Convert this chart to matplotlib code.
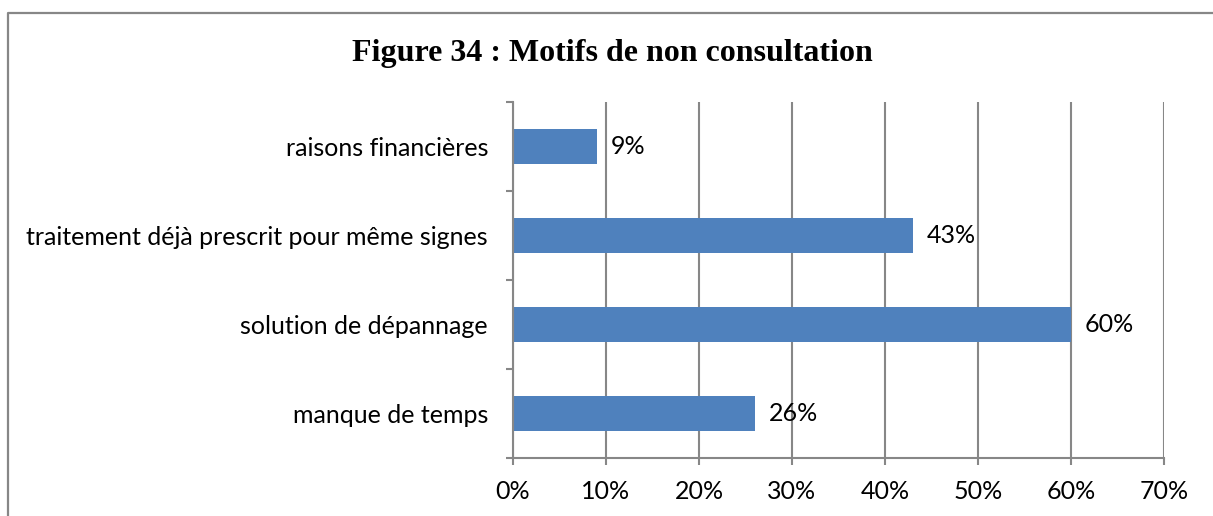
import numpy as np
import matplotlib.pyplot as plt
from matplotlib.lines import Line2D
from matplotlib.ticker import FixedLocator

categories = ["manque de temps", "solution de dépannage",
              "traitement déjà prescrit pour même signes", "raisons financières"]
values = [26, 60, 43, 9]
xticks = [0, 10, 20, 30, 40, 50, 60, 70]
title = "Figure 34 : Motifs de non consultation"

grey = "#878787"
bar_color = "#4F81BD"
fs = 18

fig = plt.figure(figsize=(12.13, 5.16), dpi=100)
ax = fig.add_axes([513 / 1213, 1 - 458 / 516, 651 / 1213, 356 / 516])

y = np.arange(len(categories))
ax.barh(y, values, height=0.4, color=bar_color, zorder=3)
for yi, v in zip(y, values):
    ax.annotate(f"{v}%", (v, yi), xytext=(10, 0), textcoords="offset points",
                va="center", ha="left", fontsize=fs, family="Lato", zorder=4)

ax.set_xlim(0, 70)
ax.set_ylim(-0.5, len(categories) - 0.5)
ax.set_xticks(xticks)
ax.set_xticklabels([f"{t}%" for t in xticks], fontsize=fs, family="Lato")
ax.set_yticks(y)
ax.set_yticklabels(categories, fontsize=fs, family="Lato")
ax.yaxis.set_minor_locator(FixedLocator(np.arange(-0.5, len(categories), 1.0)))

ax.tick_params(axis="y", which="major", length=0, pad=18)
ax.tick_params(axis="y", which="minor", length=5, width=1.5, color=grey, direction="out")
ax.tick_params(axis="x", length=5, width=1.5, color=grey, direction="out", pad=11)

ax.grid(axis="x", color=grey, linewidth=1.5, zorder=0)
for s in ["top", "right"]:
    ax.spines[s].set_visible(False)
for s in ["left", "bottom"]:
    ax.spines[s].set_color(grey)
    ax.spines[s].set_linewidth(1.5)
    ax.spines[s].set_zorder(5)

fig.text(612 / 1213, 1 - 53 / 516, title, ha="center", va="center",
         fontsize=23, fontweight="bold", family="Liberation Serif")

# frame around the chart area
fig.add_artist(Line2D([7.5 / 1213, 7.5 / 1213, 1.0], [-0.1, 1 - 13 / 516, 1 - 13 / 516],
                      transform=fig.transFigure, color=grey, linewidth=1.6))

fig.savefig("out.png", dpi=100)
